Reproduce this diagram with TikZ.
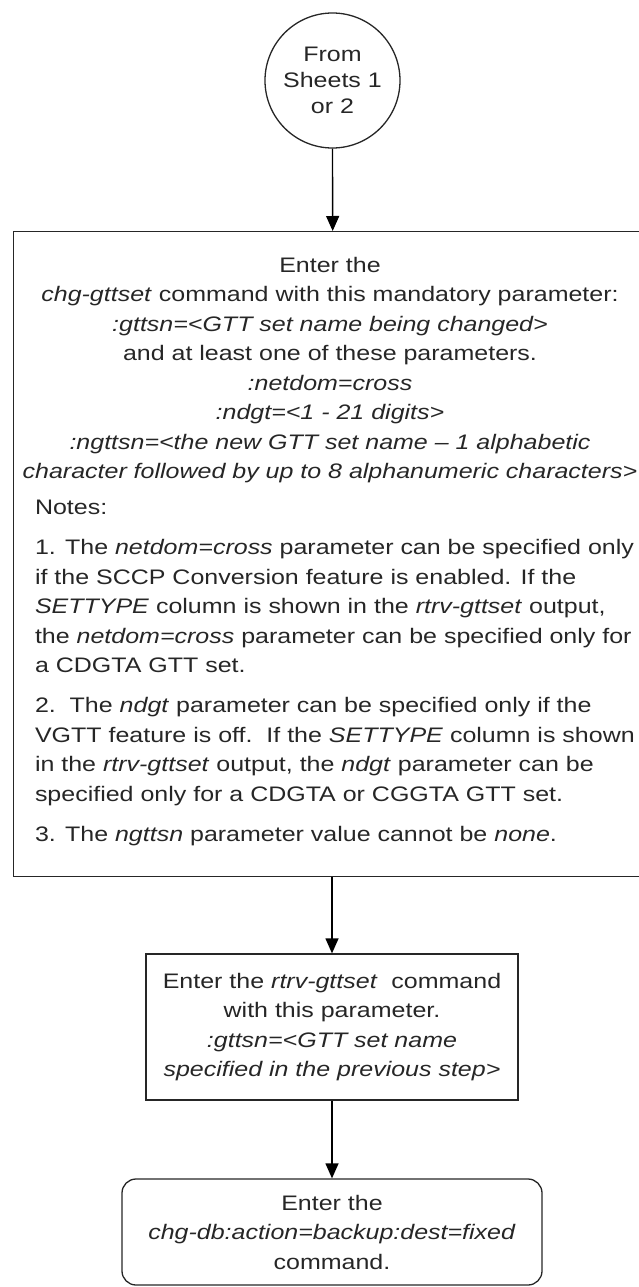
\documentclass[tikz,border=0pt]{standalone}
\usepackage{fontspec}
\setmainfont[FakeStretch=1.19]{Liberation Sans}
\usetikzlibrary{arrows.meta}
\begin{document}
\begin{tikzpicture}[x=1pt,y=-1pt,
  boxline/.style={draw=black!85, line width=1.3pt},
  txt/.style={font=\fontsize{21}{29.5}\selectfont, text=black!85},
  flow/.style={draw=black, line width=1.3pt, -{Triangle[width=13pt,length=15pt]}}]
\useasboundingbox (0,0) rectangle (639,1287);
% start circle
\node[boxline, circle, minimum size=135pt, inner sep=0, txt, align=center,
  font=\fontsize{21}{26}\selectfont] (start) at (332.5,80.5) {From\\Sheets 1\\or 2};
% big box
\node[boxline, minimum width=638pt, minimum height=645pt, inner sep=0, anchor=north west] (big) at (13,231) {};
\node[txt, anchor=north, inner sep=0] (bigtext) at (330,257) {%
\begin{minipage}{620pt}\fontsize{21}{29.5}\selectfont
\centering
Enter the\\
\textit{chg-gttset} command with this mandatory parameter:\\
\textit{:gttsn=<GTT set name being changed>}\\
and at least one of these parameters.\\
\textit{:netdom=cross}\\
\textit{:ndgt=<1 - 21 digits>}\\
\textit{:ngttsn=<the new GTT set name -- 1 alphabetic}\\
\textit{character followed by up to 8 alphanumeric characters>}\par\vspace{6.5pt}
\raggedright\leftskip=15pt
Notes:\par\vspace{10.5pt}
1. The \textit{netdom=cross} parameter can be specified only\\
if the SCCP Conversion feature is enabled. If the\\
\textit{SETTYPE} column is shown in the \textit{rtrv-gttset} output,\\
the \textit{netdom=cross} parameter can be specified only for\\
a CDGTA GTT set.\par\vspace{10.5pt}
2.\ \ The \textit{ndgt} parameter can be specified only if the\\
VGTT feature is off.\ \ If the \textit{SETTYPE} column is shown\\
in the \textit{rtrv-gttset} output, the \textit{ndgt} parameter can be\\
specified only for a CDGTA or CGGTA GTT set.\par\vspace{10.5pt}
3. The \textit{ngttsn} parameter value cannot be \textit{none}.
\end{minipage}};
% second box
\node[boxline, minimum width=372pt, minimum height=146pt, inner sep=0, txt, align=center] (rtrv) at (332,1027)
  {Enter the \textit{rtrv-gttset}\ \ command\\with this parameter.\\\textit{:gttsn=<GTT set name}\\\textit{specified in the previous step>}};
% third box
\node[boxline, rounded corners=14pt, minimum width=420pt, minimum height=106pt, inner sep=0, txt, align=center] (chgdb) at (332,1232)
  {Enter the\\\textit{chg-db:action=backup:dest=fixed}\\command.};
\draw[flow] (start) -- (big.north);
\draw[flow] (big.south -| rtrv.north) -- (rtrv.north);
\draw[flow] (rtrv) -- (chgdb);
\end{tikzpicture}
\end{document}
